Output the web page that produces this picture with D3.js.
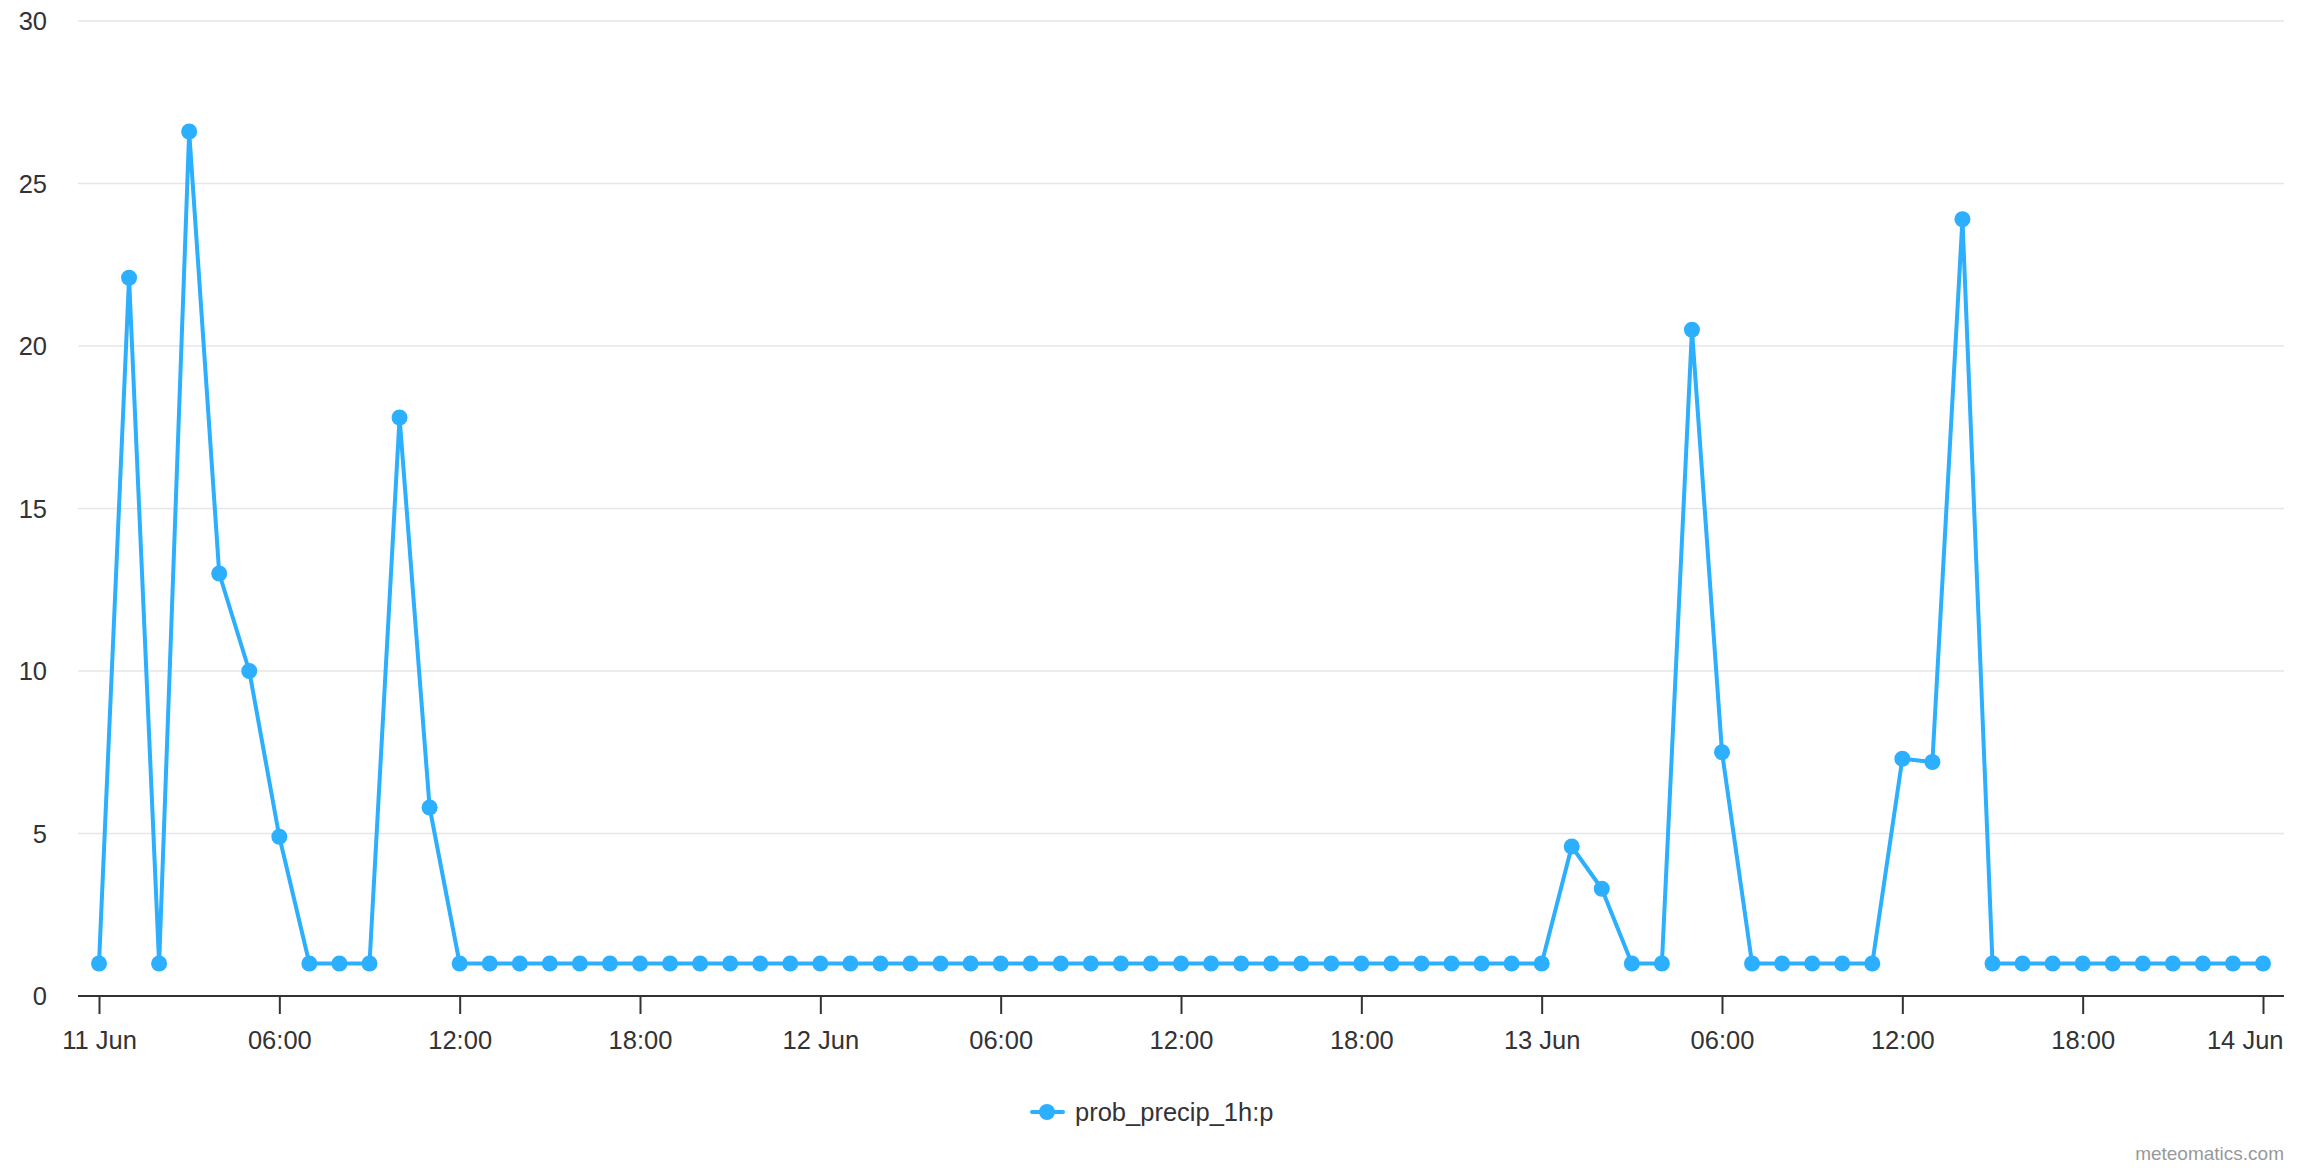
<!DOCTYPE html>
<html>
<head>
<meta charset="utf-8">
<script src="https://cdn.jsdelivr.net/npm/d3@7"></script>
<style>
  html, body { margin: 0; padding: 0; background: #fff; }
  svg { display: block; font-family: "Liberation Sans", Arial, Helvetica, sans-serif; }
</style>
</head>
<body>
<svg id="chart" width="2304" height="1170"></svg>
<script>
// Data: hourly values from 11 Jun 00:00 to 14 Jun 00:00 (UTC)
const startTime = "2024-06-11T00:00:00Z";
const values = [
  1, 22.1, 1, 26.6, 13, 10, 4.9, 1, 1, 1, 17.8, 5.8,          // 11 Jun 00-11
  1, 1, 1, 1, 1, 1, 1, 1, 1, 1, 1, 1,                         // 11 Jun 12-23
  1, 1, 1, 1, 1, 1, 1, 1, 1, 1, 1, 1,                         // 12 Jun 00-11
  1, 1, 1, 1, 1, 1, 1, 1, 1, 1, 1, 1,                         // 12 Jun 12-23
  1, 4.6, 3.3, 1, 1, 20.5, 7.5, 1, 1, 1, 1, 1,                // 13 Jun 00-11
  7.3, 7.2, 23.9, 1, 1, 1, 1, 1, 1, 1, 1, 1,                  // 13 Jun 12-23
  1                                                           // 14 Jun 00
];
const yTicks = [0, 5, 10, 15, 20, 25, 30];
const seriesName = "prob_precip_1h:p";
const creditText = "meteomatics.com";

const t0 = new Date(startTime);
const data = values.map((v, i) => ({ t: new Date(t0.getTime() + i * 3600e3), v }));

const svg = d3.select("#chart");
const color = "#2caffe";
const fontSize = 25.5;

const plotLeft = 78, plotRight = 2284, plotTop = 21, plotBottom = 996;

const x = d3.scaleUtc()
  .domain([t0, data[data.length - 1].t])
  .range([99, 2263]);
const y = d3.scaleLinear().domain([0, 30]).range([plotBottom, plotTop]);

// Gridlines
svg.append("g").selectAll("line")
  .data(yTicks.filter(d => d !== 0))
  .join("line")
  .attr("x1", plotLeft).attr("x2", plotRight)
  .attr("y1", d => y(d)).attr("y2", d => y(d))
  .attr("stroke", "#e6e6e6").attr("stroke-width", 1.5);

// Y axis labels
svg.append("g").selectAll("text")
  .data(yTicks)
  .join("text")
  .attr("x", 47)
  .attr("y", d => y(d) + 9)
  .attr("text-anchor", "end")
  .attr("font-size", fontSize)
  .attr("fill", "#333")
  .text(d => d);

// X axis
const fmt = d => (d.getUTCHours() === 0 ? d3.utcFormat("%-d %b")(d) : d3.utcFormat("%H:%M")(d));
const xAxis = d3.axisBottom(x)
  .ticks(d3.utcHour.every(6))
  .tickSize(18)
  .tickPadding(17)
  .tickFormat(fmt);
const gx = svg.append("g")
  .attr("transform", `translate(0,${plotBottom})`)
  .call(xAxis);
gx.select(".domain").remove();
gx.append("line")
  .attr("x1", plotLeft).attr("x2", plotRight)
  .attr("y1", 0).attr("y2", 0)
  .attr("stroke", "#333").attr("stroke-width", 2);
gx.selectAll(".tick line").attr("stroke", "#333").attr("stroke-width", 2);
gx.selectAll(".tick text")
  .attr("font-size", fontSize)
  .attr("fill", "#333")
  .attr("font-family", "Liberation Sans, Arial, sans-serif");
// keep the last label inside the plot area
const lastDomain = x.domain()[1];
gx.selectAll(".tick")
  .filter(d => +d === +lastDomain)
  .select("text")
  .attr("text-anchor", "end")
  .attr("x", plotRight - 1 - x(lastDomain));

// Line
const line = d3.line().x(d => x(d.t)).y(d => y(d.v));
svg.append("path")
  .datum(data)
  .attr("d", line)
  .attr("fill", "none")
  .attr("stroke", color)
  .attr("stroke-width", 4)
  .attr("stroke-linejoin", "round");

// Markers
svg.append("g").selectAll("circle")
  .data(data)
  .join("circle")
  .attr("cx", d => x(d.t))
  .attr("cy", d => y(d.v))
  .attr("r", 8)
  .attr("fill", color);

// Legend
const lg = svg.append("g").attr("transform", "translate(1047,1112)");
lg.append("line").attr("x1", -15).attr("x2", 16).attr("y1", 0).attr("y2", 0)
  .attr("stroke", color).attr("stroke-width", 4).attr("stroke-linecap", "round");
lg.append("circle").attr("r", 8).attr("fill", color);
lg.append("text").attr("x", 28).attr("y", 9)
  .attr("font-size", fontSize).attr("fill", "#333")
  .text(seriesName);

// Credit
svg.append("text")
  .attr("x", 2284).attr("y", 1160)
  .attr("text-anchor", "end")
  .attr("font-size", 19)
  .attr("fill", "#999")
  .text(creditText);
</script>
</body>
</html>
